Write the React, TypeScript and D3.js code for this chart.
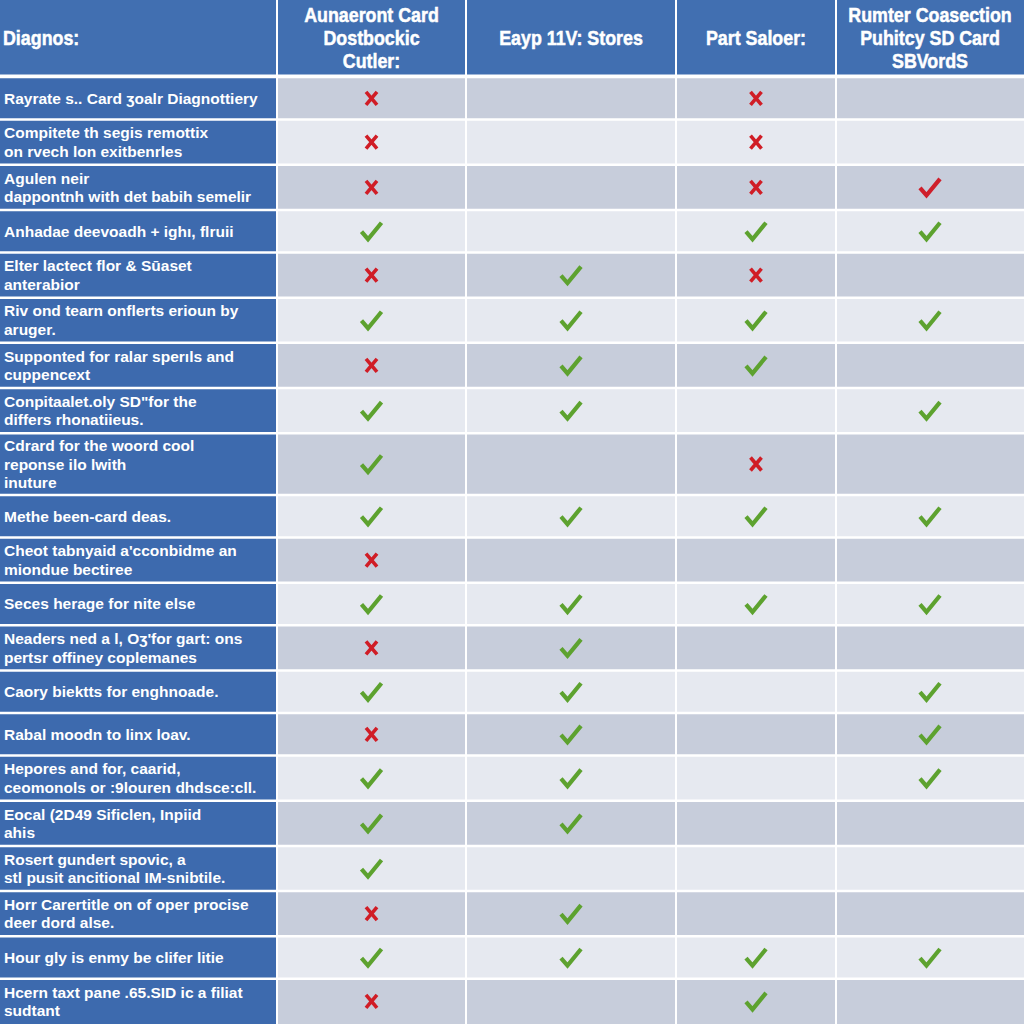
import { useEffect, useRef } from "react";
import * as d3 from "d3";

// header labels (first one is the row label column)
const headers = [
  "Diagnos:",
  "Aunaeront Card\nDostbockic\nCutler:",
  "Eayp 11V: Stores",
  "Part Saloer:",
  "Rumter Coasection\nPuhitcy SD Card\nSBVordS",
];

const rowLabels = [
  "Rayrate s.. Card ʒoalr Diagnottiery",
  "Compitete th segis remottix\non rvech lon exitbenrles",
  "Agulen neir\ndappontnh with det babih semelir",
  "Anhadae deevoadh + ighı, flruii",
  "Elter lactect flor & Sūaset\nanterabior",
  "Riv ond tearn onflerts erioun by\naruger.",
  "Supponted for ralar sperıls and\ncuppencext",
  "Conpitaalet.oly SD\"for the\ndiffers rhonatiieus.",
  "Cdrard for the woord cool\nreponse ilo lwith\ninuture",
  "Methe been-card deas.",
  "Cheot tabnyaid a'cconbidme an\nmiondue bectiree",
  "Seces herage for nite else",
  "Neaders ned a l, Oʒ'for gart: ons\npertsr offiney coplemanes",
  "Caory biektts for enghnoade.",
  "Rabal moodn to linx loav.",
  "Hepores and for, caarid,\nceomonols or :9louren dhdsce:cll.",
  "Eocal (2D49 Sificlen, Inpiid\nahis",
  "Rosert gundert spovic, a\nstl pusit ancitional IM-snibtile.",
  "Horr Carertitle on of oper procise\ndeer dord alse.",
  "Hour gly is enmy be clifer litie",
  "Hcern taxt pane .65.SID ic a filiat\nsudtant",
];

// v = green check, x = red cross, r = red check, "" = empty
const colA = ["x","x","x","v","x","v","x","v","v","v","x","v","x","v","x","v","v","v","x","v","x"];
const colB = ["","","","","v","v","v","v","","v","","v","v","v","v","v","v","","v","v",""];
const colC = ["x","x","x","v","x","v","v","","x","v","","v","","","","","","","","v","v"];
const colD = ["","","r","v","","v","","v","","v","","v","","v","v","v","","","","v",""];

const W = 1024;
const H = 1024;
const HEADER_H = 76;
const colWidths = [277, 189, 210, 160, 188];

const CTable = () => {
  const svgRef = useRef(null);

  useEffect(() => {
    const svg = d3.select(svgRef.current);
    svg.selectAll("*").remove();

    const columns = [colA, colB, colC, colD];

    // row heights from number of text lines
    const weights = rowLabels.map((l) => {
      const n = l.split("\n").length;
      return n === 1 ? 1 : n === 2 ? 1.06 : 1.45;
    });
    const total = d3.sum(weights);
    const unit = (H - HEADER_H - 1) / total;
    const rowY = [];
    let acc = HEADER_H + 1;
    weights.forEach((w) => {
      rowY.push(acc);
      acc += w * unit;
    });
    const rowH = weights.map((w) => w * unit);

    const colX = [0];
    colWidths.forEach((w, i) => colX.push(colX[i] + w));

    svg.append("rect").attr("width", W).attr("height", H).attr("fill", "#ffffff");

    // header
    const gHead = svg.append("g");
    headers.forEach((h, i) => {
      gHead
        .append("rect")
        .attr("x", colX[i])
        .attr("y", 0)
        .attr("width", colWidths[i])
        .attr("height", HEADER_H)
        .attr("fill", "#416fb1");
      const lines = h.split("\n");
      const lh = 23;
      const ax = i === 0 ? 3 : colX[i] + colWidths[i] / 2;
      // condensed look: squeeze horizontally
      const t = gHead
        .append("text")
        .attr("transform", `translate(${ax},0) scale(0.87,1)`)
        .attr("fill", "#ffffff")
        .attr("stroke", "#ffffff")
        .attr("stroke-width", 0.5)
        .attr("font-family", "'Liberation Sans', Arial, sans-serif")
        .attr("font-weight", "bold")
        .attr("font-size", 20.5)
        .attr("text-anchor", i === 0 ? "start" : "middle");
      lines.forEach((ln, k) => {
        t.append("tspan")
          .attr("x", 0)
          .attr("y", HEADER_H / 2 + (k - (lines.length - 1) / 2) * lh + 7)
          .text(ln);
      });
    });

    // rows
    const gRows = svg.append("g");
    rowLabels.forEach((label, r) => {
      const y0 = rowY[r];
      const h = rowH[r];
      gRows
        .append("rect")
        .attr("x", 0)
        .attr("y", y0)
        .attr("width", colWidths[0])
        .attr("height", h)
        .attr("fill", "#3d6aae");
      gRows
        .append("rect")
        .attr("x", colX[1])
        .attr("y", y0)
        .attr("width", W - colX[1])
        .attr("height", h)
        .attr("fill", r % 2 === 0 ? "#c7cddb" : "#e6e9f0");

      const lines = label.split("\n");
      const lh = 18.5;
      const t = gRows
        .append("text")
        .attr("fill", "#ffffff")
        .attr("font-family", "'Liberation Sans', Arial, sans-serif")
        .attr("font-weight", "bold")
        .attr("font-size", 15.5);
      lines.forEach((ln, k) => {
        t.append("tspan")
          .attr("x", 4)
          .attr("y", y0 + h / 2 + (k - (lines.length - 1) / 2) * lh + 5.5)
          .text(ln);
      });
    });

    // grid lines
    const gGrid = svg.append("g").attr("stroke", "#ffffff");
    rowY.forEach((y) => {
      gGrid.append("line").attr("x1", 0).attr("x2", W).attr("y1", y).attr("y2", y).attr("stroke-width", 2.5);
    });
    gGrid.append("line").attr("x1", 0).attr("x2", W).attr("y1", HEADER_H).attr("y2", HEADER_H).attr("stroke-width", 3);
    colX.slice(1, -1).forEach((x) => {
      gGrid.append("line").attr("x1", x).attr("x2", x).attr("y1", 0).attr("y2", H).attr("stroke-width", 2);
    });

    // marks
    const gMarks = svg.append("g");
    columns.forEach((col, c) => {
      const cx = colX[c + 1] + colWidths[c + 1] / 2;
      col.forEach((m, r) => {
        if (!m) return;
        const cy = rowY[r] + rowH[r] / 2;
        const g = gMarks.append("g").attr("transform", `translate(${cx},${cy})`);
        if (m === "x") {
          g.append("path")
            .attr("d", "M-5.5,-6.5L5.5,6.5M5.5,-6.5L-5.5,6.5")
            .attr("stroke", "#d01d26")
            .attr("stroke-width", 3.6)
            .attr("stroke-linecap", "butt")
            .attr("fill", "none");
        } else {
          g.append("path")
            .attr("d", "M-10,0.5L-3.5,8L10,-8.5")
            .attr("stroke", m === "r" ? "#cf1f2b" : "#5da22f")
            .attr("stroke-width", 4.2)
            .attr("stroke-linejoin", "miter")
            .attr("stroke-linecap", "butt")
            .attr("fill", "none");
        }
      });
    });
  }, []);

  return (
    <svg
      ref={svgRef}
      width={W}
      height={H}
      style={{ position: "fixed", top: 0, left: 0, display: "block" }}
    ></svg>
  );
};

export default function App() {
  return <CTable />;
}
